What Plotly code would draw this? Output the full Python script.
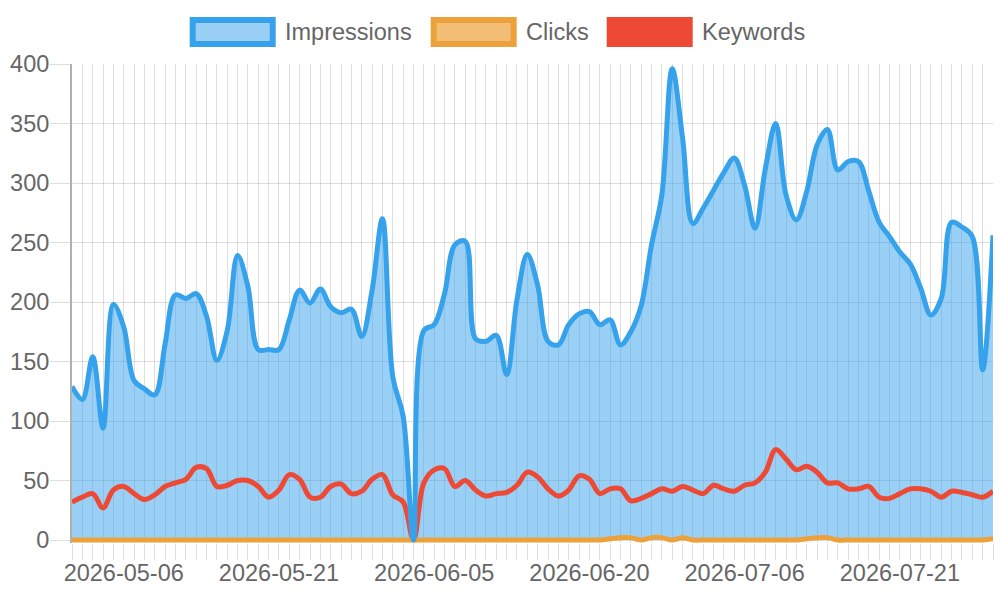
import pandas as pd
import plotly.graph_objects as go

# one day has no row in the export, so the axis skips it
days = pd.date_range("2026-05-01", "2026-07-30").strftime("%Y-%m-%d").tolist()
days.remove("2026-06-28")

impressions = [129, 118, 154, 94, 198, 179, 134, 127, 122, 165,
               206, 203, 207, 188, 151, 176, 239, 213, 160, 160,
               160, 185, 210, 199, 211, 196, 191, 194, 171, 210,
               270, 137, 104, 0, 176, 181, 207, 248, 251, 169,
               167, 172, 139, 202, 240, 214, 167, 164, 181, 190,
               192, 181, 185, 164, 175, 197, 248, 290, 396, 338,
               266, 279, 294, 309, 321, 298, 262, 312, 350, 290,
               269, 293, 332, 345, 311, 318, 318, 293, 267, 255,
               242, 232, 212, 189, 203, 267, 263, 255, 143, 256]

clicks = [0, 0, 0, 0, 0, 0, 0, 0, 0, 0,
          0, 0, 0, 0, 0, 0, 0, 0, 0, 0,
          0, 0, 0, 0, 0, 0, 0, 0, 0, 0,
          0, 0, 0, 0, 0, 0, 0, 0, 0, 0,
          0, 0, 0, 0, 0, 0, 0, 0, 0, 0,
          0, 0, 1, 2, 2, 0, 2, 2, 0, 2,
          0, 0, 0, 0, 0, 0, 0, 0, 0, 0,
          0, 1, 2, 2, 0, 0, 0, 0, 0, 0,
          0, 0, 0, 0, 0, 0, 0, 0, 0, 1]

keywords = [32, 36, 39, 27, 42, 45, 39, 34, 38, 45,
            48, 51, 61, 60, 45, 46, 50, 50, 45, 36,
            42, 55, 51, 36, 36, 45, 47, 39, 41, 51,
            55, 38, 32, 0, 48, 59, 60, 45, 50, 42,
            37, 39, 40, 46, 57, 53, 43, 37, 42, 54,
            51, 39, 43, 43, 33, 35, 39, 43, 41, 45,
            42, 39, 46, 43, 41, 46, 48, 57, 76, 68,
            59, 62, 57, 48, 48, 43, 43, 45, 36, 35,
            39, 43, 43, 41, 36, 41, 40, 38, 36, 41]

series_names = ["Impressions", "Clicks", "Keywords"]

BLUE = "#36A2EB"
BLUE_FILL = "rgba(54,162,235,0.5)"
ORANGE = "#EDA13A"
ORANGE_FILL = "rgba(237,161,58,0.7)"
RED = "#EE4934"
GRID = "rgba(0,0,0,0.13)"
TEXT = "#666666"
FONT = "Liberation Sans, Arial, sans-serif"

# plot area in pixels
L, R, T, B = 72, 993, 64, 543


def px_x(px):
    return (px - L) / (R - L)


def px_y(py):
    return (B - py) / (B - T)


line_style = dict(shape="spline", smoothing=1.0, width=5)

fig = go.Figure()

# fill goes under every line, like chart.js does it
fig.add_trace(go.Scatter(x=days, y=impressions, mode="lines",
                         line=dict(shape="spline", smoothing=1.0, width=0, color=BLUE),
                         fill="tozeroy", fillcolor=BLUE_FILL,
                         hoverinfo="skip", showlegend=False))
fig.add_trace(go.Scatter(x=days, y=keywords, mode="lines", name=series_names[2],
                         line=dict(line_style, color=RED), showlegend=False))
fig.add_trace(go.Scatter(x=days, y=clicks, mode="lines", name=series_names[1],
                         line=dict(line_style, color=ORANGE), showlegend=False))
fig.add_trace(go.Scatter(x=days, y=impressions, mode="lines", name=series_names[0],
                         line=dict(line_style, color=BLUE), showlegend=False))

tick_text = [d if i % 15 == 5 else "" for i, d in enumerate(days)]

fig.update_layout(
    width=1000,
    height=600,
    margin=dict(l=L, r=1000 - R, t=T, b=600 - B, pad=0),
    paper_bgcolor="white",
    plot_bgcolor="white",
    font=dict(family=FONT, size=23.5, color=TEXT),
    showlegend=False,
    xaxis=dict(type="category", range=[0, len(days) - 1], autorange=False,
               tickmode="array", tickvals=days, ticktext=tick_text,
               showgrid=True, gridcolor=GRID, gridwidth=1,
               ticks="outside", ticklen=16, tickcolor=GRID, tickwidth=1,
               ticklabelstandoff=-7,
               tickangle=0, showline=False, zeroline=False,
               tickfont=dict(size=23.5, color=TEXT)),
    yaxis=dict(range=[-2.5, 400], autorange=False, tick0=0, dtick=50,
               showgrid=True, gridcolor=GRID, gridwidth=1,
               ticks="outside", ticklen=20, tickcolor=GRID, tickwidth=1,
               ticklabelstandoff=-4,
               showline=True, linecolor="#b0b0b0", linewidth=2,
               zeroline=False, tickfont=dict(size=23.5, color=TEXT)),
)

# chart.js style legend: bordered boxes + labels along the top
legend_boxes = [
    (192.7, 272.7, BLUE, BLUE_FILL, 283),
    (433.7, 513.7, ORANGE, ORANGE_FILL, 524),
    (609.7, 689.7, RED, RED, 700),
]
for (x0, x1, edge, face, tx), name in zip(legend_boxes, series_names):
    fig.add_shape(type="rect", xref="paper", yref="paper",
                  x0=px_x(x0), x1=px_x(x1), y0=px_y(44), y1=px_y(20),
                  line=dict(color=edge, width=6), fillcolor=face, layer="above")
    fig.add_annotation(x=px_x(tx), y=px_y(32), xref="paper", yref="paper",
                       text=name, showarrow=False, xanchor="left", yanchor="middle",
                       font=dict(family=FONT, size=23.5, color=TEXT))

# the page body has a default margin, drop it so the figure sits at 0,0
fig.write_html("out.html", config={"displayModeBar": False},
               post_script="document.body.style.margin = '0';")
